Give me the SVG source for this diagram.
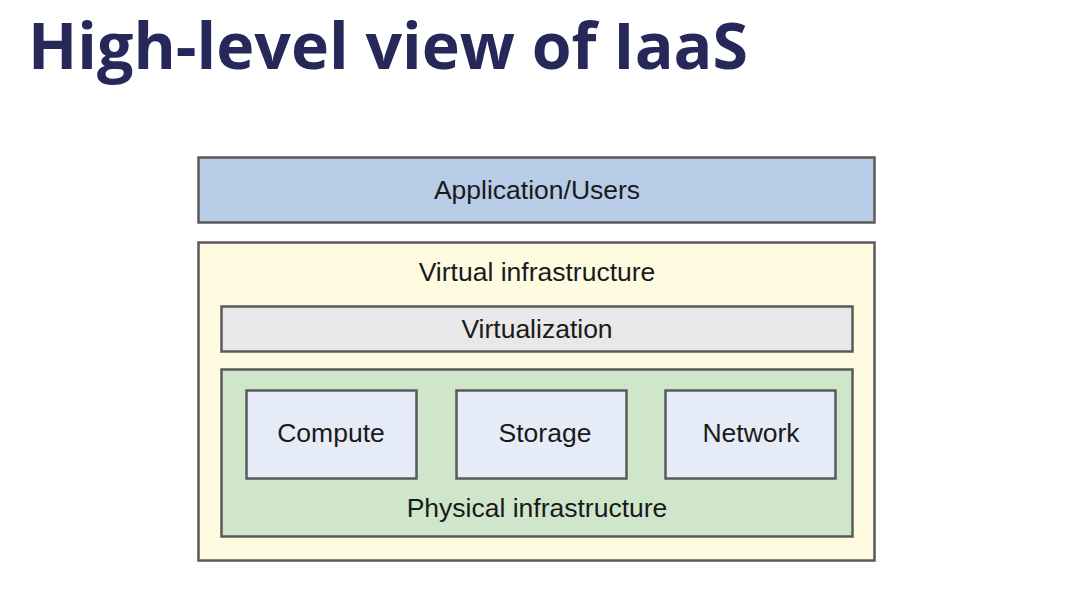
<svg xmlns="http://www.w3.org/2000/svg" width="1069" height="605" viewBox="0 0 1069 605">
<style>
.lbl{font-family:"Liberation Sans",Arial,sans-serif;font-size:26.5px;fill:#1a1a1a;text-anchor:middle}
.box{stroke:#5a5a5a;stroke-width:2.5}
</style>
<rect width="1069" height="605" fill="#ffffff"/>
<text x="28" y="69" font-family="'Open Sans','DejaVu Sans',sans-serif" font-weight="bold" font-size="65" fill="#27285a" textLength="720" lengthAdjust="spacingAndGlyphs">High-level view of IaaS</text>
<g id="app">
<rect class="box" x="198.5" y="157.5" width="676" height="65" fill="#b8cce8"/>
<text class="lbl" x="537" y="199">Application/Users</text>
</g>
<g id="virtual-infrastructure">
<rect class="box" x="198.5" y="242.5" width="676" height="318" fill="#fffbe0" stroke="#222"/>
<text class="lbl" x="537" y="281">Virtual infrastructure</text>
</g>
<g id="virtualization">
<rect class="box" x="221.5" y="306.5" width="631" height="45" fill="#e8e8e8"/>
<text class="lbl" x="537" y="338">Virtualization</text>
</g>
<g id="physical-infrastructure">
<rect class="box" x="221.5" y="369.5" width="631" height="167" fill="#cfe6cb"/>
<text class="lbl" x="537" y="517">Physical infrastructure</text>
</g>
<g id="compute">
<rect class="box" x="246.5" y="390.5" width="170" height="88" fill="#e6ecf7" stroke="#222"/>
<text class="lbl" x="331" y="442">Compute</text>
</g>
<g id="storage">
<rect class="box" x="456.5" y="390.5" width="170" height="88" fill="#e6ecf7"/>
<text class="lbl" x="545" y="442">Storage</text>
</g>
<g id="network">
<rect class="box" x="665.5" y="390.5" width="170" height="88" fill="#e6ecf7"/>
<text class="lbl" x="751" y="442">Network</text>
</g>
<g id="connectors"></g>
</svg>
